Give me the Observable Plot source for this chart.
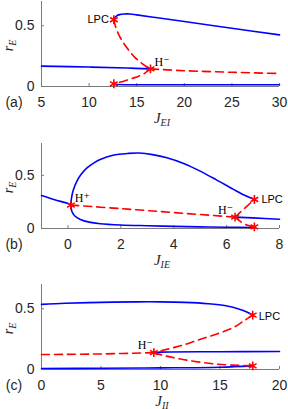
<!DOCTYPE html>
<html><head><meta charset="utf-8">
<script src="https://cdn.jsdelivr.net/npm/d3@7"></script>
<script src="https://cdn.jsdelivr.net/npm/@observablehq/plot@0.6"></script>
<style>body{margin:0;background:#fff}#c svg{display:block}</style>
</head><body><div id="c"></div><script>
// ---------- Panel (a): r_E vs J_EI ----------
const aStableUpper = [[12.6,0.55],[12.7,0.567],[12.9,0.582],[13.2,0.592],[13.7,0.597],[14.3,0.597],[15,0.590],[17,0.568],[20,0.535],[25,0.480],[30,0.425]];
const aStableMid = [[5,0.168],[10,0.160],[14,0.152],[16.45,0.145]];
const aStableLow = [[12.6,0.02],[13,0.016],[20,0.015],[30,0.015]];
const aUnstUpper = [[12.6,0.55],[12.75,0.5],[13.1,0.43],[13.6,0.36],[14.2,0.295],[14.8,0.24],[15.4,0.2],[16,0.165],[16.45,0.145]];
const aUnstLow = [[16.45,0.145],[16.1,0.125],[15.75,0.104],[15.2,0.085],[14.7,0.071],[13.8,0.048],[12.6,0.022]];
const aUnstRight = [[16.45,0.145],[20,0.130],[25,0.117],[30,0.107]];
const aPoints = [[12.6,0.55],[16.45,0.145],[12.6,0.022]];
const aLabels = ["LPC","H⁻"];
const aXTicks = [5,10,15,20,25,30];

// ---------- Panel (b): r_E vs J_IE ----------
const bStableLeft = [[-1,0.31],[-0.5,0.27],[0,0.235],[0.11,0.22]];
const bStableLoopUp = [[0.11,0.22],[0.13,0.28],[0.2,0.36],[0.34,0.446],[0.5,0.51],[0.72,0.57],[1.0,0.62],[1.22,0.65],[1.7,0.69],[2.29,0.707],[2.7,0.71],[3.2,0.695],[3.74,0.666],[4.4,0.61],[5.0,0.54],[5.6,0.46],[6.26,0.368],[6.7,0.31],[7.05,0.273]];
const bStableLoopLow = [[0.11,0.22],[0.15,0.16],[0.25,0.12],[0.47,0.085],[0.8,0.06],[1.22,0.045],[2,0.033],[3,0.026],[4,0.02],[5,0.015],[6,0.012],[7.05,0.01]];
const bStableRight = [[6.32,0.107],[7,0.1],[8,0.087]];
const bUnstMid = [[0.11,0.22],[2,0.187],[4,0.15],[6.32,0.107]];
const bUnstUp = [[6.32,0.107],[6.5,0.15],[6.7,0.194],[6.9,0.24],[7.05,0.273]];
const bUnstLow = [[6.32,0.107],[6.45,0.08],[6.6,0.053],[6.8,0.03],[7.05,0.015]];
const bPoints = [[0.11,0.22],[7.05,0.273],[6.32,0.107],[7.05,0.015]];
const bLabels = ["H⁺","LPC","H⁻"];
const bXTicks = [0,2,4,6,8];

// ---------- Panel (c): r_E vs J_II ----------
const cStableTop = [[0,0.536],[2,0.545],[5,0.553],[8,0.557],[10,0.557],[12,0.553],[14,0.542],[15.5,0.525],[16.7,0.495],[17.3,0.472],[17.75,0.448]];
const cStableMid = [[9.44,0.139],[10,0.143],[15,0.146],[20,0.148]];
const cStableLow = [[0,0.008],[5,0.01],[10,0.013],[15,0.019],[17.75,0.03]];
const cUnstUp = [[17.75,0.448],[17,0.4],[16.1,0.344],[14.8,0.295],[13.35,0.249],[12.2,0.21],[11.1,0.18],[10.2,0.158],[9.44,0.139]];
const cUnstLeft = [[0,0.123],[5,0.128],[9.44,0.139]];
const cUnstLow = [[9.44,0.139],[10.5,0.11],[12.2,0.077],[14.75,0.044],[17.75,0.03]];
const cPoints = [[17.75,0.448],[9.44,0.139],[17.75,0.03]];
const cLabels = ["LPC","H⁻"];
const cXTicks = [0,5,10,15,20];

const yTicks = [0,0.5];

const BLUE = "#0000ff", RED = "#ff0000", AX = "#7a7a7a", TXT = "#262626";
const SANS = "Liberation Sans, Arial, sans-serif";
const SERIF = "Liberation Serif, DejaVu Serif, serif";

function panel(cfg) {
  const X = d => d[0], Y = d => d[1];
  const marks = [
    Plot.ruleY([cfg.yDomain[0]], {stroke: AX, strokeWidth: 1}),
    Plot.ruleX([cfg.xDomain[0]], {stroke: AX, strokeWidth: 1}),
    Plot.axisX({ticks: cfg.xTicks, tickSize: -3, tickPadding: 14, stroke: AX, fill: TXT, label: null, fontSize: 14}),
    Plot.axisY({ticks: yTicks, tickSize: -3, tickPadding: 10, stroke: AX, fill: TXT, label: null, fontSize: 14, tickFormat: d => String(d)}),
    ...cfg.stable.map(s => Plot.line(s, {x: X, y: Y, stroke: BLUE, strokeWidth: 1.6, curve: "catmull-rom"})),
    ...cfg.unstable.map(s => Plot.line(s, {x: X, y: Y, stroke: RED, strokeWidth: 1.6, strokeDasharray: "8,5", curve: "catmull-rom"})),
    Plot.dot(cfg.points, {x: X, y: Y, symbol: "asterisk", r: 4.2, stroke: RED, strokeWidth: 1.6}),
    ...cfg.labels.map((txt, i) => {
      const o = cfg.labelPos[i];
      return Plot.text([cfg.points[o.p]], {x: X, y: Y, text: () => txt, dx: o.dx, dy: o.dy, textAnchor: o.anchor,
        fontFamily: txt === "LPC" ? SANS : SERIF, fontSize: txt === "LPC" ? 11 : 12, fill: "#000"});
    })
  ];
  const chart = Plot.plot({
    width: 288, height: cfg.height,
    marginLeft: 41, marginRight: 9, marginTop: cfg.mt, marginBottom: cfg.mb,
    x: {domain: cfg.xDomain},
    y: {domain: cfg.yDomain},
    style: {fontFamily: SANS, fontSize: "14px", color: TXT, background: "#fff"},
    marks
  });
  const sx = chart.scale("x"), sy = chart.scale("y");
  const cx = (sx.range[0] + sx.range[1]) / 2;
  const y0 = sy.range[0], cy = (sy.range[0] + sy.range[1]) / 2;
  const svg = d3.select(chart);
  // x label with subscript
  const tx = svg.append("text").attr("x", cx + 2).attr("y", y0 + 37).attr("text-anchor", "middle")
    .attr("font-family", SERIF).attr("font-style", "italic").attr("font-size", 15).attr("fill", TXT);
  tx.append("tspan").text("J");
  tx.append("tspan").attr("font-size", 10).attr("dy", 2.5).text(cfg.xSub);
  // y label
  const ty = svg.append("text").attr("transform", `translate(13,${cy + 2}) rotate(-90)`).attr("text-anchor", "middle")
    .attr("font-family", SERIF).attr("font-style", "italic").attr("font-size", 14).attr("fill", TXT);
  ty.append("tspan").text("r");
  ty.append("tspan").attr("font-size", 10).attr("dy", 2.5).text("E");
  // panel tag
  svg.append("text").attr("x", 14).attr("y", y0 + 11).attr("dy", "0.71em").attr("font-family", SANS)
    .attr("font-size", 14).attr("fill", TXT).text(cfg.tag);
  return chart;
}

const root = document.getElementById("c");
root.appendChild(panel({
  xDomain: [5,30], yDomain: [0,0.7], xTicks: aXTicks, height: 136, mt: 1, mb: 50,
  stable: [aStableUpper, aStableMid, aStableLow], unstable: [aUnstUpper, aUnstLow, aUnstRight],
  points: aPoints, labels: aLabels,
  labelPos: [{p:0, dx:-5, dy:0, anchor:"end"}, {p:1, dx:4, dy:-7, anchor:"start"}],
  tag: "(a)", xSub: "EI"
}));
root.appendChild(panel({
  xDomain: [-1,8], yDomain: [0,0.8], xTicks: bXTicks, height: 137, mt: 7, mb: 45,
  stable: [bStableLeft, bStableLoopUp, bStableLoopLow, bStableRight], unstable: [bUnstMid, bUnstUp, bUnstLow],
  points: bPoints, labels: bLabels,
  labelPos: [{p:0, dx:4, dy:-7, anchor:"start"}, {p:1, dx:7, dy:0, anchor:"start"}, {p:2, dx:-2, dy:-7, anchor:"end"}],
  tag: "(b)", xSub: "IE"
}));
root.appendChild(panel({
  xDomain: [0,20], yDomain: [0,0.7], xTicks: cXTicks, height: 136, mt: 11, mb: 40,
  stable: [cStableTop, cStableMid, cStableLow], unstable: [cUnstUp, cUnstLeft, cUnstLow],
  points: cPoints, labels: cLabels,
  labelPos: [{p:0, dx:6, dy:1, anchor:"start"}, {p:1, dx:-1, dy:-7, anchor:"end"}],
  tag: "(c)", xSub: "II"
}));
</script></body></html>
